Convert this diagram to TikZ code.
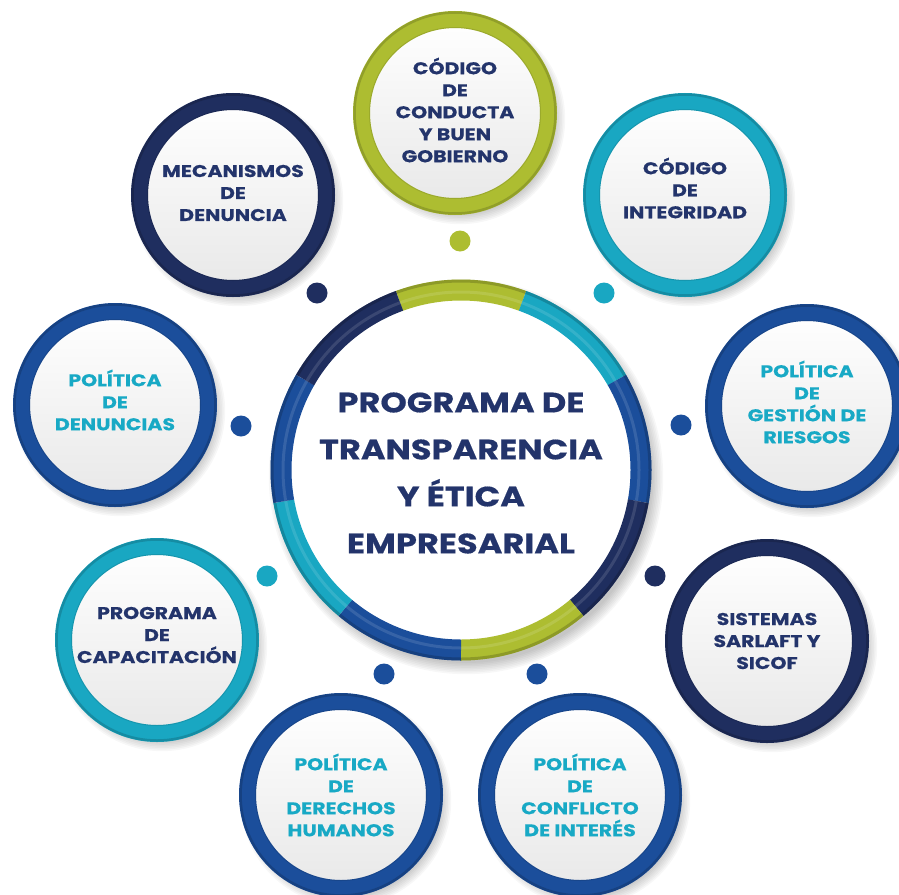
\documentclass[tikz,border=0pt]{standalone}
\usepackage{fontspec}
\setmainfont{Poppins}[BoldFeatures={FakeStretch=1.2, FakeBold=0.5}]
\definecolor{cgreen}{HTML}{ADBD31}
\definecolor{cteal}{HTML}{19A7C2}
\definecolor{cblue}{HTML}{1B4E9B}
\definecolor{cnavy}{HTML}{1F2E5F}
\definecolor{ctext}{HTML}{23346B}
\definecolor{ctealtext}{HTML}{18A9C5}
\tikzset{
  bubble/.style={circle, minimum size=187pt, inner sep=0pt, line width=17pt,
    shading=axis, shading angle=45, top color=white, bottom color=black!9},
  bubbletext/.style={align=center, inner sep=0pt, font=\bfseries\fontsize{17}{22}\selectfont},
  maintext/.style={align=center, text=ctext, font=\bfseries\fontsize{28}{47}\selectfont},
  dotnode/.style={circle, minimum size=21pt, inner sep=0pt},
  edgeline/.style={line width=2.5pt, opacity=.35}
}
\newcommand\softshadow[3]{%
  \foreach \k in {0,...,7}{\fill[black,opacity=0.03] (#1,#2) circle ({#3+1.6*\k});}}
% name, x, y, ring colour, text colour, text shift up, text
\newcommand\bubblenode[7]{%
  \softshadow{#2+5}{#3+6}{94}
  \node[bubble, draw=#4] (#1) at (#2,#3) {};
  \draw[edgeline, draw=#4!55!black] (#1.center) circle (100.5);
  \draw[line width=1pt, opacity=.2, draw=#4!50!black] (#1.center) circle (85.5);
  \node[bubbletext, text=#5, yshift=#6pt] (#1-text) at (#1.center) {#7};
}
\begin{document}
\begin{tikzpicture}[x=1pt, y=-1pt]
\useasboundingbox (0,0) rectangle (899,894);
\clip (0,0) rectangle (899,894);
% central circle
\softshadow{466}{477}{186}
\node[circle, minimum size=340pt, inner sep=0pt, fill=white] (core) at (461,470) {};
\foreach \a/\b/\col in {-110/-70/cgreen, -70/-30/cteal, -30/10/cblue, 10/50/cnavy,
    50/90/cgreen, 90/130/cblue, 130/170/cteal, 170/210/cblue, 210/250/cnavy}{
  \draw[\col, line width=21pt] (core.center) ++(\a:180) arc[start angle=\a, end angle=\b, radius=180];
  \draw[\col!60!black, line width=3pt, opacity=.45] (core.center) ++(\a:189) arc[start angle=\a, end angle=\b, radius=189];
  \draw[white, line width=3pt, opacity=.12] (core.center) ++(\a:178) arc[start angle=\a, end angle=\b, radius=178];
}
\node[maintext] (title) at (461,473) {PROGRAMA DE\\TRANSPARENCIA\\Y ÉTICA\\EMPRESARIAL};
% outer bubbles
\bubblenode{conducta}{455}{113}{cgreen}{ctext}{3}{CÓDIGO\\DE\\CONDUCTA\\Y BUEN\\GOBIERNO}
\bubblenode{integridad}{685}{195}{cteal}{ctext}{7}{CÓDIGO\\DE\\INTEGRIDAD}
\bubblenode{mecanismos}{233}{195}{cnavy}{ctext}{2}{MECANISMOS\\DE\\DENUNCIA}
\bubblenode{denuncias}{115}{405}{cblue}{ctealtext}{5}{POLÍTICA\\DE\\DENUNCIAS}
\bubblenode{gestion}{807}{406}{cblue}{ctealtext}{4}{POLÍTICA\\DE\\GESTIÓN DE\\RIESGOS}
\bubblenode{capacitacion}{157}{640}{cteal}{ctext}{5}{PROGRAMA\\DE\\CAPACITACIÓN}
\bubblenode{sistemas}{767}{641}{cnavy}{ctext}{0}{SISTEMAS\\SARLAFT Y\\SICOF}
\bubblenode{derechos}{341}{795}{cblue}{ctealtext}{0}{POLÍTICA\\DE\\DERECHOS\\HUMANOS}
\bubblenode{conflicto}{580}{795}{cblue}{ctealtext}{0}{POLÍTICA\\DE\\CONFLICTO\\DE INTERÉS}
% dots
\node[dotnode, fill=cgreen] (d1) at (460,241) {};
\node[dotnode, fill=cteal] (d2) at (604,293) {};
\node[dotnode, fill=cnavy] (d3) at (317,293) {};
\node[dotnode, fill=cblue] (d4) at (241,426) {};
\node[dotnode, fill=cblue] (d5) at (681,425) {};
\node[dotnode, fill=cnavy] (d6) at (655,576) {};
\node[dotnode, fill=cteal] (d7) at (267,576) {};
\node[dotnode, fill=cblue] (d8) at (384,674) {};
\node[dotnode, fill=cblue] (d9) at (537,674) {};
\end{tikzpicture}
\end{document}
